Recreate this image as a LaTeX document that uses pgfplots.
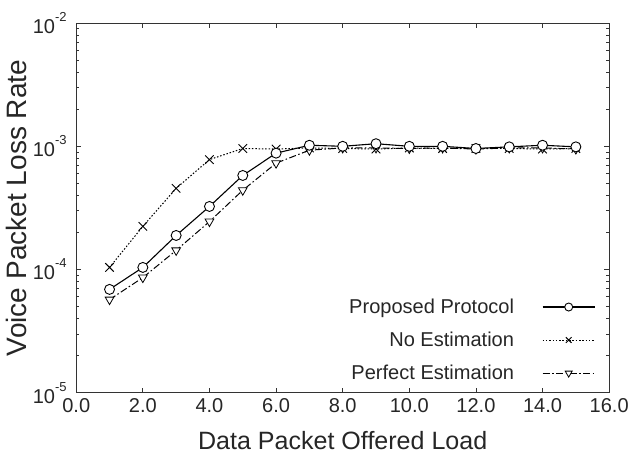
\documentclass[border=0pt]{standalone}
\usepackage{fontspec}
\setmainfont{Liberation Sans}
\usepackage{pgfplots}
\pgfplotsset{compat=1.18}

\newcommand{\pw}[1]{10\raisebox{1.15ex}{\fontsize{13}{13}\selectfont #1}}

\begin{document}
\begin{tikzpicture}
\begin{axis}[
    scale only axis,
    width=532pt,
    height=369pt,
    ymode=log,
    xmin=0, xmax=16,
    ymin=1e-5, ymax=1e-2,
    xtick={0,2,...,16},
    xticklabels={0.0,2.0,4.0,6.0,8.0,10.0,12.0,14.0,16.0},
    ytick={1e-5,1e-4,1e-3,1e-2},
    yticklabels={\pw{-5},\pw{-4},\pw{-3},\pw{-2}},
    tick align=inside,
    major tick length=5pt,
    minor tick length=3pt,
    axis line style={black!80, line width=1pt},
    every tick/.style={black!80, line width=0.8pt},
    tick label style={font=\fontsize{20}{22}\selectfont, text=black!85},
    xticklabel style={yshift=-2pt},
    yticklabel style={xshift=-6pt},
    xlabel={Data Packet Offered Load},
    ylabel={Voice Packet Loss Rate},
    xlabel style={font=\fontsize{25}{28}\selectfont, text=black!85, yshift=-12pt},
    ylabel style={font=\fontsize{28}{30}\selectfont, text=black!85, yshift=-1pt},
    reverse legend,
    legend plot pos=right,
    legend cell align=right,
    legend style={
        draw=none, fill=none,
        at={(0.98,0.02)}, anchor=south east,
        font=\fontsize{20}{22}\selectfont,
        row sep=13pt,
        nodes={text=black!85},
    },
    legend image code/.code={
        \path (0pt,0pt);
        \draw[mark repeat=2, mark phase=2, mark size=4pt]
            plot coordinates {(26pt,0pt) (52pt,0pt) (78pt,0pt)};
    },
]
\addplot+[black, line width=1pt,
    dash pattern=on 7pt off 2.5pt on 1.5pt off 2.5pt,
    mark=triangle*, mark size=5pt,
    mark options={solid, fill=white, rotate=180, line width=0.8pt}]
    coordinates {
        (1,5.7e-5) (2,8.6e-5) (3,1.43e-4) (4,2.45e-4) (5,4.4e-4)
        (6,7.3e-4) (7,0.93e-3) (8,0.97e-3) (9,0.97e-3) (10,0.96e-3)
        (11,0.97e-3) (12,0.95e-3) (13,0.97e-3) (14,0.97e-3) (15,0.95e-3)
    };
\addlegendentry{Perfect Estimation}
\addplot+[black, line width=1pt,
    dash pattern=on 1.5pt off 1.8pt,
    mark=x, mark size=6pt,
    mark options={solid, line width=0.9pt}]
    coordinates {
        (1,1.04e-4) (2,2.24e-4) (3,4.56e-4) (4,7.8e-4) (5,9.6e-4)
        (6,0.95e-3) (7,0.97e-3) (8,0.96e-3) (9,0.95e-3) (10,0.97e-3)
        (11,0.96e-3) (12,0.96e-3) (13,0.96e-3) (14,0.95e-3) (15,0.96e-3)
    };
\addlegendentry{No Estimation}
\addplot+[black, line width=1.1pt, solid,
    mark=*, mark size=5pt,
    mark options={fill=white, line width=0.9pt}]
    coordinates {
        (1,6.9e-5) (2,1.04e-4) (3,1.89e-4) (4,3.25e-4) (5,5.8e-4)
        (6,8.8e-4) (7,1.02e-3) (8,1.0e-3) (9,1.05e-3) (10,1.0e-3)
        (11,1.0e-3) (12,0.96e-3) (13,0.99e-3) (14,1.02e-3) (15,0.99e-3)
    };
\addlegendentry{Proposed Protocol}
\end{axis}
\path ([yshift=9pt]current bounding box.north)
      ([yshift=-5pt]current bounding box.south)
      ([xshift=-3pt]current bounding box.west);
\end{tikzpicture}
\end{document}
